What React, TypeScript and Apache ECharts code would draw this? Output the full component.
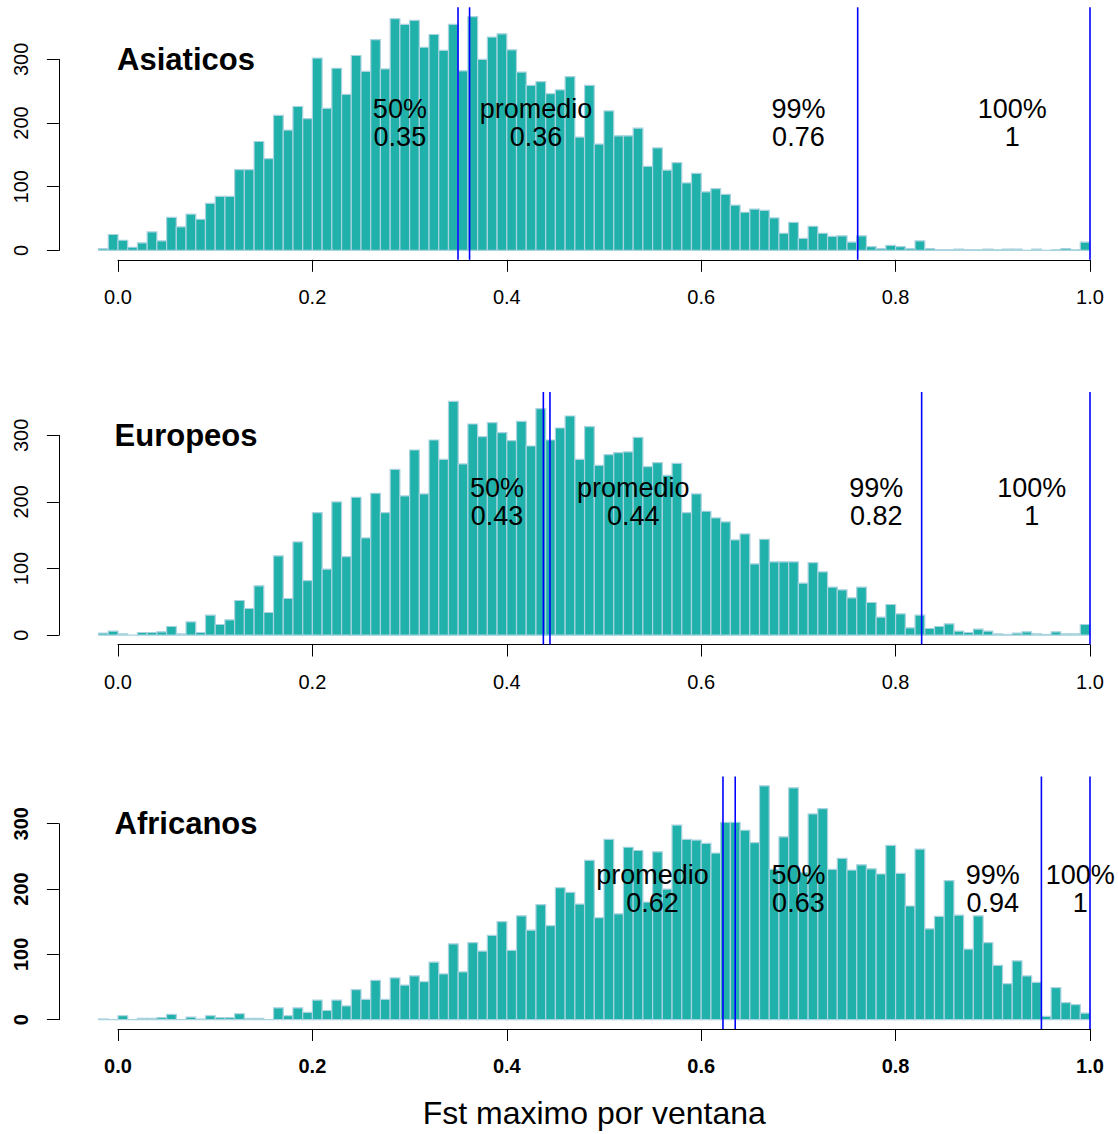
import React, { useEffect, useRef } from "react";
import * as echarts from "echarts";

// Histogram bins: start and width (bins from -0.02 to 1.00)
const binStart = -0.02;
const binWidth = 0.01;

const panelNames = ["Asiaticos", "Europeos", "Africanos"];

const asiaticos = [
  3, 25, 16, 5, 12, 29, 15, 52, 37, 57, 49, 74, 85, 85, 127, 127, 171, 144, 212, 189,
  226, 207, 302, 223, 286, 245, 306, 281, 331, 285, 364, 355, 361, 319,
  339, 314, 355, 282, 367, 300, 335, 340, 315, 280, 259, 265, 246, 252, 273, 178,
  259, 167, 219, 180, 180, 192, 132, 161, 126, 138, 106, 121, 92, 97, 88, 71, 60, 65,
  63, 51, 27, 44, 19, 38, 27, 22, 23, 13, 23, 6, 3, 8, 6, 3, 15, 3, 1, 1, 2, 1, 1, 2,
  1, 2, 2, 0, 2, 0, 1, 3, 1, 13,
];

const europeos = [
  3, 6, 2, 0, 4, 4, 5, 13, 2, 20, 4, 30, 16, 23, 52, 40, 74, 34, 119, 55,
  140, 82, 184, 99, 200, 118, 207, 146, 213, 184, 249, 209, 278, 212,
  293, 264, 351, 257, 317, 298, 319, 304, 292, 321, 284, 340, 293, 311, 329, 264,
  313, 255, 271, 274, 275, 297, 253, 259, 240, 258, 184, 212, 186, 176, 170, 143, 152, 107,
  144, 110, 110, 110, 78, 109, 95, 72, 68, 56, 72, 49, 27, 46, 32, 11, 30, 10, 13, 17,
  6, 4, 9, 6, 2, 1, 3, 5, 2, 1, 5, 2, 2, 16,
];

const africanos = [
  1, 0, 6, 0, 2, 2, 3, 8, 0, 4, 1, 6, 3, 3, 9, 2, 2, 0, 18, 6,
  18, 11, 30, 14, 30, 21, 46, 31, 60, 31, 64, 53, 67, 58,
  88, 70, 116, 73, 118, 105, 129, 150, 106, 159, 137, 176, 144, 202, 195, 177,
  244, 156, 276, 162, 264, 259, 180, 257, 200, 298, 276, 275, 270, 255, 302, 302, 290, 271,
  358, 230, 280, 355, 225, 315, 323, 230, 247, 229, 237, 231, 223, 267, 224, 174, 261, 139, 158, 213,
  160, 108, 159, 118, 83, 55, 90, 67, 57, 5, 49, 26, 23, 10,
];

const panelCounts = [asiaticos, europeos, africanos];

// Vertical reference lines (50%, promedio, 99%, 100%)
const asiaticosLines = [0.3498, 0.3617, 0.761, 1.0];
const europeosLines = [0.4376, 0.4444, 0.8268, 1.0];
const africanosLines = [0.6224, 0.635, 0.95, 1.0];
const panelLines = [asiaticosLines, europeosLines, africanosLines];

// Annotation texts: [x, y, text]
const asiaticosNotes: [number, number, string][] = [
  [0.29, 200, "50%\n0.35"],
  [0.43, 200, "promedio\n0.36"],
  [0.70, 200, "99%\n0.76"],
  [0.92, 200, "100%\n1"],
];
const europeosNotes: [number, number, string][] = [
  [0.39, 200, "50%\n0.43"],
  [0.53, 200, "promedio\n0.44"],
  [0.78, 200, "99%\n0.82"],
  [0.94, 200, "100%\n1"],
];
const africanosNotes: [number, number, string][] = [
  [0.55, 200, "promedio\n0.62"],
  [0.70, 200, "50%\n0.63"],
  [0.90, 200, "99%\n0.94"],
  [0.99, 200, "100%\n1"],
];
const panelNotes = [asiaticosNotes, europeosNotes, africanosNotes];

const titlePos: [number, number] = [0.07, 300];

const xTicks = { min: 0, max: 1, interval: 0.2 };
const yTicks = { min: 0, max: 300, interval: 100 };
const xLabel = "Fst maximo por ventana";

const FONT = "Liberation Sans";
const W = 1118;
const H = 1134;

export default function App() {
  const ref = useRef<HTMLDivElement>(null);

  useEffect(() => {
    if (!ref.current) return;
    const chart = echarts.init(ref.current, undefined, { renderer: "svg" });

    const pxPerX = 972;
    const x0px = 118;
    const xMin = -0.0608;
    const xMaxFull = 1.0408;
    const plotLeft = x0px + xMin * pxPerX;
    // the plot region runs past the right edge of the picture; clip at the edge
    const xMax = (W - x0px) / pxPerX;
    const plotWidth = W - plotLeft;
    const plotCenter = x0px + ((xMin + xMaxFull) / 2) * pxPerX;
    const panelTops = [7.3, 392, 776.5];
    const plotHeight = 252.5;

    const grids: any[] = [];
    const xAxes: any[] = [];
    const yAxes: any[] = [];
    const series: any[] = [];

    panelCounts.forEach((counts, p) => {
      const top = panelTops[p];
      const M = Math.max(...counts);
      const yLo = -0.04 * M;
      const yHi = 1.04 * M;
      const pxPerY = plotHeight / (yHi - yLo);
      const bold = p === 2;

      // plot grid
      const gi = grids.length;
      grids.push({ left: plotLeft, top, width: plotWidth, height: plotHeight });
      xAxes.push({ gridIndex: gi, type: "value", min: xMin, max: xMax, show: false });
      yAxes.push({ gridIndex: gi, type: "value", min: yLo, max: yHi, show: false });

      const data = counts.map((c, i) => [
        +(binStart + i * binWidth).toFixed(2),
        +(binStart + (i + 1) * binWidth).toFixed(2),
        c,
      ]);

      series.push({
        type: "custom",
        xAxisIndex: gi,
        yAxisIndex: gi,
        encode: { x: [0, 1], y: 2 },
        data,
        clip: false,
        renderItem: (params: any, api: any) => {
          const a = api.coord([api.value(0), api.value(2)]);
          const b = api.coord([api.value(1), 0]);
          return {
            type: "rect",
            shape: { x: a[0], y: a[1], width: b[0] - a[0], height: b[1] - a[1] },
            style: { fill: "#20B2AA", stroke: "#A9D3DF", lineWidth: 1.2 },
          };
        },
        silent: true,
        z: 2,
      });

      // vertical quantile / mean lines spanning the plot region
      series.push({
        type: "custom",
        xAxisIndex: gi,
        yAxisIndex: gi,
        encode: { x: 0, y: [1, 2] },
        data: panelLines[p].map((v) => [v, yLo, yHi]),
        clip: false,
        renderItem: (params: any, api: any) => {
          const a = api.coord([api.value(0), api.value(2)]);
          const b = api.coord([api.value(0), api.value(1)]);
          return {
            type: "line",
            shape: { x1: a[0], y1: a[1], x2: b[0], y2: b[1] },
            style: { stroke: "#0000FF", lineWidth: 1.6 },
          };
        },
        silent: true,
        z: 3,
      });

      series.push({
        type: "scatter",
        xAxisIndex: gi,
        yAxisIndex: gi,
        symbolSize: 1,
        itemStyle: { color: "rgba(0,0,0,0)", opacity: 1 },
        data: panelNotes[p].map((n) => ({ value: [n[0], n[1]], name: n[2] })),
        label: {
          show: true,
          position: "inside",
          formatter: "{b}",
          color: "#000000",
          opacity: 1,
          fontFamily: FONT,
          fontSize: 27,
          lineHeight: 28,
          align: "center",
          verticalAlign: "middle",
        },
        emphasis: { disabled: true },
        silent: true,
        z: 5,
      });

      series.push({
        type: "scatter",
        xAxisIndex: gi,
        yAxisIndex: gi,
        symbolSize: 1,
        itemStyle: { color: "rgba(0,0,0,0)", opacity: 1 },
        data: [{ value: titlePos, name: panelNames[p] }],
        label: {
          show: true,
          position: "inside",
          formatter: "{b}",
          color: "#000000",
          opacity: 1,
          fontFamily: FONT,
          fontWeight: "bold",
          fontSize: 31,
          align: "center",
          verticalAlign: "middle",
        },
        emphasis: { disabled: true },
        silent: true,
        z: 5,
      });

      // x axis grid (0..1)
      const gx = grids.length;
      grids.push({ left: x0px, top, width: pxPerX, height: plotHeight });
      xAxes.push({
        gridIndex: gx,
        type: "value",
        min: xTicks.min,
        max: xTicks.max,
        interval: xTicks.interval,
        position: "bottom",
        axisLine: { show: true, lineStyle: { color: "#000", width: 1 } },
        axisTick: { show: true, length: 12, lineStyle: { color: "#000", width: 1 } },
        splitLine: { show: false },
        axisLabel: {
          show: true,
          margin: 27,
          color: "#000",
          fontFamily: FONT,
          fontSize: 20,
          fontWeight: bold ? "bold" : "normal",
          formatter: (v: number) => v.toFixed(1),
        },
      });
      yAxes.push({ gridIndex: gx, type: "value", min: 0, max: 1, show: false });

      // y axis grid (0..300)
      const gy = grids.length;
      grids.push({
        left: plotLeft,
        top: top + (yHi - yTicks.max) * pxPerY,
        width: 10,
        height: (yTicks.max - yTicks.min) * pxPerY,
      });
      xAxes.push({ gridIndex: gy, type: "value", min: 0, max: 1, show: false });
      yAxes.push({
        gridIndex: gy,
        type: "value",
        min: yTicks.min,
        max: yTicks.max,
        interval: yTicks.interval,
        position: "left",
        axisLine: { show: true, lineStyle: { color: "#000", width: 1 } },
        axisTick: { show: true, length: 12, lineStyle: { color: "#000", width: 1 } },
        splitLine: { show: false },
        axisLabel: {
          show: true,
          rotate: 90,
          margin: 28,
          color: "#000",
          fontFamily: FONT,
          fontSize: 20,
          fontWeight: bold ? "bold" : "normal",
        },
      });
    });

    chart.setOption({
      animation: false,
      backgroundColor: "#fff",
      grid: grids,
      xAxis: xAxes,
      yAxis: yAxes,
      series,
      graphic: [
        {
          type: "text",
          x: plotCenter,
          y: 1113,
          style: {
            text: xLabel,
            fill: "#000",
            font: `32px "${FONT}"`,
            textAlign: "center",
            textVerticalAlign: "middle",
          },
        },
      ],
    });

    return () => chart.dispose();
  }, []);

  return (
    <div
      ref={ref}
      style={{ position: "absolute", left: 0, top: 0, width: W, height: H }}
    />
  );
}
